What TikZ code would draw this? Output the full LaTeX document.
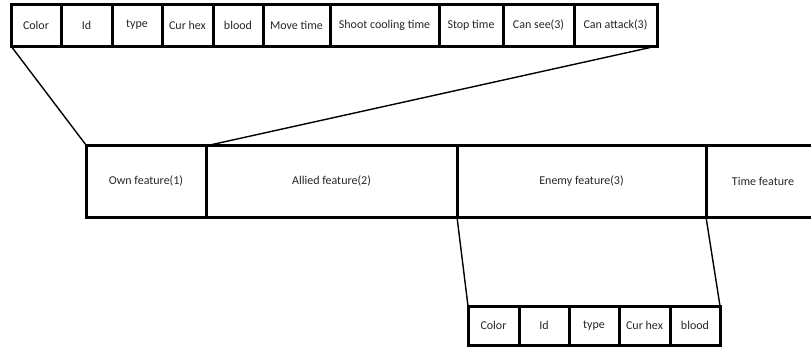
\documentclass[tikz,border=0pt]{standalone}
\usepackage{fontspec}
\setmainfont{Carlito}
\begin{document}
\begin{tikzpicture}[x=1pt,y=-1pt,
  cell/.style={draw=black, line width=3pt, inner sep=0pt, outer sep=0pt, anchor=north west, font=\fontsize{12}{14}\selectfont, text=black!85},
  link/.style={draw=black, line width=1.4pt}]
\useasboundingbox (0,0) rectangle (811,351);
\clip (0,0) rectangle (811,351);
% top row: y 4..46
\foreach \nm/\xa/\xb/\tx in {t1/11/61/Color, t2/61/112/Id, t3/112/162/type, t4/162/213/Cur hex, t5/213/263/blood, t6/263/330/Move time, t7/330/439/Shoot cooling time, t8/439/503/Stop time, t9/503/574/Can see(3), t10/574/657/Can attack(3)}
  \node[cell, minimum width={(\xb-\xa)*1pt}, minimum height=42pt] (\nm) at (\xa,4) {\tx};
% middle row: y 145..217
\foreach \nm/\xa/\xb/\tx in {own/86/206/Own feature(1), allied/206/457/Allied feature(2), enemy/457/706/Enemy feature(3), time/706/820/Time feature}
  \node[cell, minimum width={(\xb-\xa)*1pt}, minimum height=72pt] (\nm) at (\xa,145) {\tx};
% bottom row: y 306..345
\foreach \nm/\xa/\xb/\tx in {b1/468/519/Color, b2/519/569/Id, b3/569/619/type, b4/619/670/Cur hex, b5/670/720/blood}
  \node[cell, minimum width={(\xb-\xa)*1pt}, minimum height=39pt] (\nm) at (\xa,306) {\tx};
% connectors
\draw[link] (t1.south west) -- (own.north west);
\draw[link] (t10.south east) -- ([xshift=4pt]allied.north west);
\draw[link] (enemy.south west) -- (b1.north west);
\draw[link] (time.south west) -- (b5.north east);
\end{tikzpicture}
\end{document}
